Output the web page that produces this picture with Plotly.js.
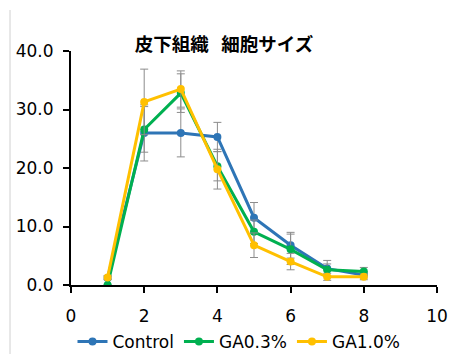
<!DOCTYPE html>
<html><head><meta charset="utf-8">
<script src="https://cdn.plot.ly/plotly-3.0.1.min.js"></script>
<style>html,body{margin:0;padding:0;background:#fff}#c{width:450px;height:354px}</style>
</head><body><div id="c"></div>
<script>
const xVals = [1, 2, 3, 4, 5, 6, 7, 8];
const controlVals = [1.2, 26.0, 26.0, 25.3, 11.5, 6.8, 2.8, 1.7];
const controlErr  = [0.3, 4.8, 4.1, 2.5, 2.6, 2.2, 1.4, 0.5];
const ga03Vals = [0.0, 26.6, 32.8, 20.3, 9.1, 6.1, 2.6, 2.3];
const ga03Err  = [0.0, 3.9, 3.3, 2.5, 2.0, 2.6, 1.0, 0.7];
const ga10Vals = [1.3, 31.3, 33.5, 19.8, 6.8, 4.0, 1.4, 1.4];
const ga10Err  = [0.3, 5.6, 3.1, 3.4, 2.1, 1.4, 0.6, 0.5];
const seriesNames = ["Control", "GA0.3%", "GA1.0%"];
const titleText = "皮下組織\u00a0\u00a0\u00a0細胞サイズ";

const colors = ["#2E75B6", "#00B050", "#FFC000"];
const vals = [controlVals, ga03Vals, ga10Vals];
const errs = [controlErr, ga03Err, ga10Err];
const font = "'DejaVu Sans', sans-serif";

const traces = vals.map((v, i) => ({
  x: xVals, y: v, name: seriesNames[i], type: "scatter", mode: "lines+markers",
  line: {color: colors[i], width: 3},
  marker: {color: colors[i], size: 8},
  error_y: {type: "data", array: errs[i], visible: true, color: "#8c8c8c", thickness: 1, width: 4}
}));

const layout = {
  width: 450, height: 354,
  margin: {l: 71, r: 13, t: 51, b: 69},
  paper_bgcolor: "#fff", plot_bgcolor: "#fff",
  font: {family: font, size: 17, color: "#000"},
  title: {text: "<b>" + titleText + "</b>", x: 224/450, xanchor: "center", y: 1 - 45/354, yanchor: "middle",
          font: {family: "'Noto Sans CJK JP', sans-serif", size: 18.5, color: "#000"}},
  xaxis: {range: [0, 10], dtick: 2, tick0: 0, showgrid: false, zeroline: false,
          showline: true, linecolor: "#000", linewidth: 2, ticks: "outside", ticklen: 6,
          tickcolor: "#000", tickwidth: 2, tickfont: {size: 17}, ticklabelstandoff: 9},
  yaxis: {range: [0, 40], dtick: 10, tick0: 0, tickformat: ".1f", showgrid: false, zeroline: false,
          showline: true, linecolor: "#000", linewidth: 2, ticks: "outside", ticklen: 6,
          tickcolor: "#000", tickwidth: 2, tickfont: {size: 17}, ticklabelstandoff: 6},
  showlegend: true,
  legend: {orientation: "h", xref: "container", yref: "container", x: 239/450, xanchor: "center",
           y: 1 - 342/354, yanchor: "middle", font: {size: 17}, itemwidth: 30, tracegroupgap: 0,
           bgcolor: "rgba(0,0,0,0)"},
  shapes: [{type: "line", xref: "paper", yref: "paper", x0: -61/366, x1: -61/366, y0: 1 + 41/234, y1: -69/234,
            line: {color: "#d0d0d0", width: 1}}]
};
Plotly.newPlot("c", traces, layout, {displayModeBar: false, staticPlot: true});
</script></body></html>
